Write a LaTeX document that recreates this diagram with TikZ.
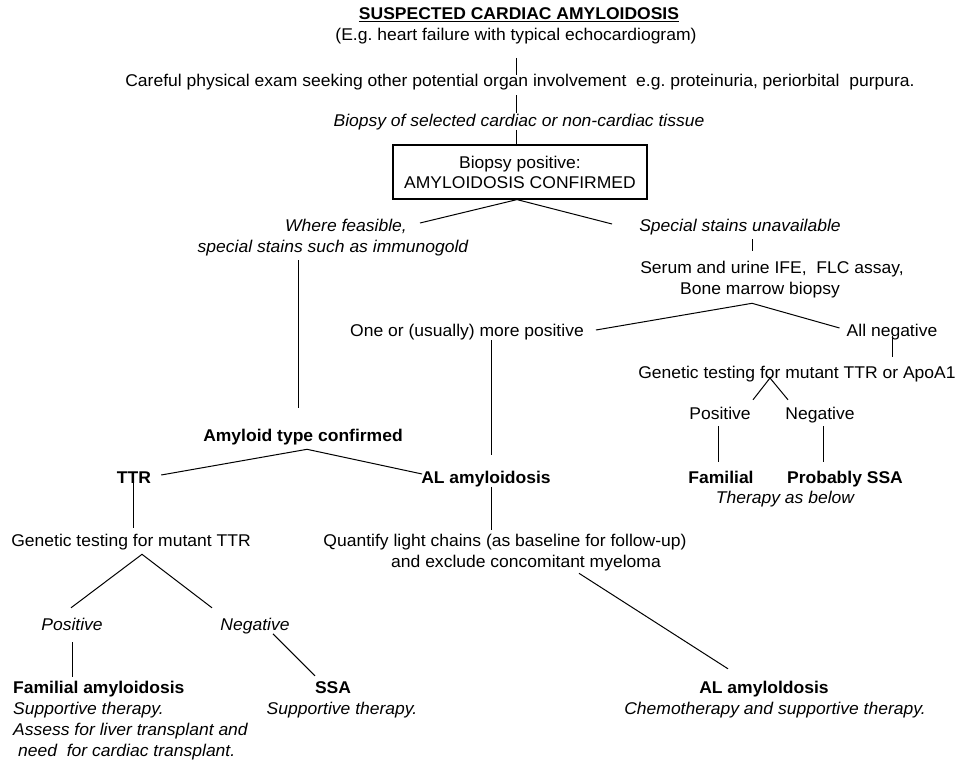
\documentclass[tikz,border=0pt]{standalone}
\usepackage{fontspec}
\setmainfont{Liberation Sans}[FakeStretch=1.03]
\usetikzlibrary{calc}
\frenchspacing
\begin{document}
\begin{tikzpicture}[x=1pt,y=-1pt,
  txt/.style={inner sep=0pt, anchor=base, text height=12.5pt, text depth=3.6pt, font=\fontsize{17}{21}\selectfont},
  itx/.style={txt, font=\fontsize{17}{21}\selectfont\itshape},
  bfx/.style={txt, font=\fontsize{17}{21}\selectfont\bfseries},
  conn/.style={line width=1pt, black},
  boxed/.style={draw, line width=1.2pt, inner sep=0pt, align=center, minimum width=254pt, minimum height=54pt, font=\fontsize{17}{20}\selectfont}]
\useasboundingbox (0,0) rectangle (958,760);
% top chain
\node[bfx] (title) at (519,20) {\underline{SUSPECTED CARDIAC AMYLOIDOSIS}};
\node[txt] (eg) at (516,41) {(E.g. heart failure with typical echocardiogram)};
\node[txt] (careful) at (520,86) {Careful physical exam seeking other potential organ involvement\ \ e.g. proteinuria, periorbital\ \ purpura.};
\node[itx] (biopsy) at (519,126) {Biopsy of selected cardiac or non-cardiac tissue};
\node[boxed] (box) at (520,172) {Biopsy positive:\\AMYLOIDOSIS CONFIRMED};
% branches
\node[itx] (wf1) at (346,231) {Where feasible,};
\node[itx] (wf2) at (333,252) {special stains such as immunogold};
\node[itx] (ssu) at (740,231) {Special stains unavailable};
\node[txt] (serum1) at (772,273) {Serum and urine IFE,\ \ FLC assay,};
\node[txt] (serum2) at (760,294) {Bone marrow biopsy};
\node[txt] (oneor) at (467,336) {One or (usually) more positive};
\node[txt] (allneg) at (892,336) {All negative};
\node[txt] (gen2) at (797,378) {Genetic testing for mutant TTR or ApoA1};
\node[txt] (pos2) at (720,419) {Positive};
\node[txt] (neg2) at (820,419) {Negative};
\node[bfx] (fam2) at (721,483) {Familial};
\node[bfx] (pssa) at (845,483) {Probably SSA};
\node[itx] (tab) at (785,503) {Therapy as below};
% middle
\node[bfx] (atc) at (303,441) {Amyloid type confirmed};
\node[bfx] (ttr) at (134,483) {TTR};
\node[bfx] (al1) at (486,483) {AL amyloidosis};
\node[txt] (gen1) at (131,546) {Genetic testing for mutant TTR};
\node[txt] (quant1) at (505,546) {Quantify light chains (as baseline for follow-up)};
\node[txt] (quant2) at (526,567) {and exclude concomitant myeloma};
\node[itx] (pos1) at (72,630) {Positive};
\node[itx] (neg1) at (255,630) {Negative};
% bottom
\node[bfx, anchor=base west] (fam1) at (13,693) {Familial amyloidosis};
\node[itx, anchor=base west] (fam1b) at (13,714) {Supportive therapy.};
\node[itx, anchor=base west] (fam1c) at (13,735) {Assess for liver transplant and};
\node[itx, anchor=base west] (fam1d) at (18,756) {need\ \ for cardiac transplant.};
\node[bfx] (ssa1) at (333,693) {SSA};
\node[itx] (ssa2) at (342,714) {Supportive therapy.};
\node[bfx] (al2a) at (764,693) {AL amyloldosis};
\node[itx] (al2b) at (775,714) {Chemotherapy and supportive therapy.};
% connectors
\draw[conn] ($(eg.south)+(0,13)$) -- ($(careful.north -| eg.south)+(0,1.5)$);
\draw[conn] ($(careful.south -| eg.south)+(0,5.5)$) -- (biopsy.north -| eg.south);
\draw[conn] (biopsy.south -| eg.south) -- (box.north -| eg.south);
\coordinate (boxapex) at ($(box.south)+(-3,0)$);
\draw[conn] ($(wf1.base east)+(13,-8)$) -- (boxapex) -- ($(ssu.base west)+(-27,-7)$);
\draw[conn] ($(wf2.south -| atc.north)+(-5,4.5)$) -- ($(atc.north)+(-5,-20.5)$);
\draw[conn] ($(ssu.south)+(12,4.5)$) -- ($(serum1.north -| ssu.south)+(12,-9.5)$);
\coordinate (serapex) at ($(serum2.south)+(-8,5.5)$);
\draw[conn] ($(oneor.base east)+(12,-6)$) -- (serapex) -- ($(allneg.base west)+(-7,-8)$);
\draw[conn] ($(oneor.south)+(24,0)$) -- ($(al1.north)+(5,-15)$);
\draw[conn] ($(al1.south)+(5,0)$) -- ($(quant1.north -| al1.south)+(5,-3.5)$);
\draw[conn] ($(allneg.base)+(0,0)$) -- ($(gen2.north -| allneg.base)+(0,-8.5)$);
\coordinate (genapex) at ($(gen2.base)+(-27,0)$);
\draw[conn] ($(pos2.north)+(33,-6.5)$) -- (genapex) -- ($(neg2.north)+(-32,-6.5)$);
\draw[conn] ($(pos2.south)+(-2,3.5)$) -- ($(fam2.north)+(-3,-8.5)$);
\draw[conn] ($(neg2.south)+(3,3.5)$) -- ($(pssa.north)+(-22,-8.5)$);
\coordinate (atcapex) at ($(atc.south)+(4,4.5)$);
\draw[conn] ($(ttr.base east)+(10,-8)$) -- (atcapex) -- ($(al1.base west)+(1,-9)$);
\draw[conn] ($(ttr.south)+(-1,-3.5)$) -- ($(gen1.north -| ttr.south)+(-1,-5.5)$);
\coordinate (genapex1) at ($(gen1.south)+(11,4.5)$);
\draw[conn] ($(pos1.north)+(-1,-9.5)$) -- (genapex1) -- ($(neg1.north)+(-43,-9.5)$);
\draw[conn] ($(pos1.south)+(0,8.5)$) -- ($(fam1.north -| pos1.south)+(0,-3.5)$);
\draw[conn] ($(neg1.south)+(18,0)$) -- ($(ssa1.north)+(-18,-4.5)$);
\draw[conn] ($(quant2.south)+(53,2.5)$) -- ($(al2a.north)+(-36,-11.5)$);
\end{tikzpicture}
\end{document}
